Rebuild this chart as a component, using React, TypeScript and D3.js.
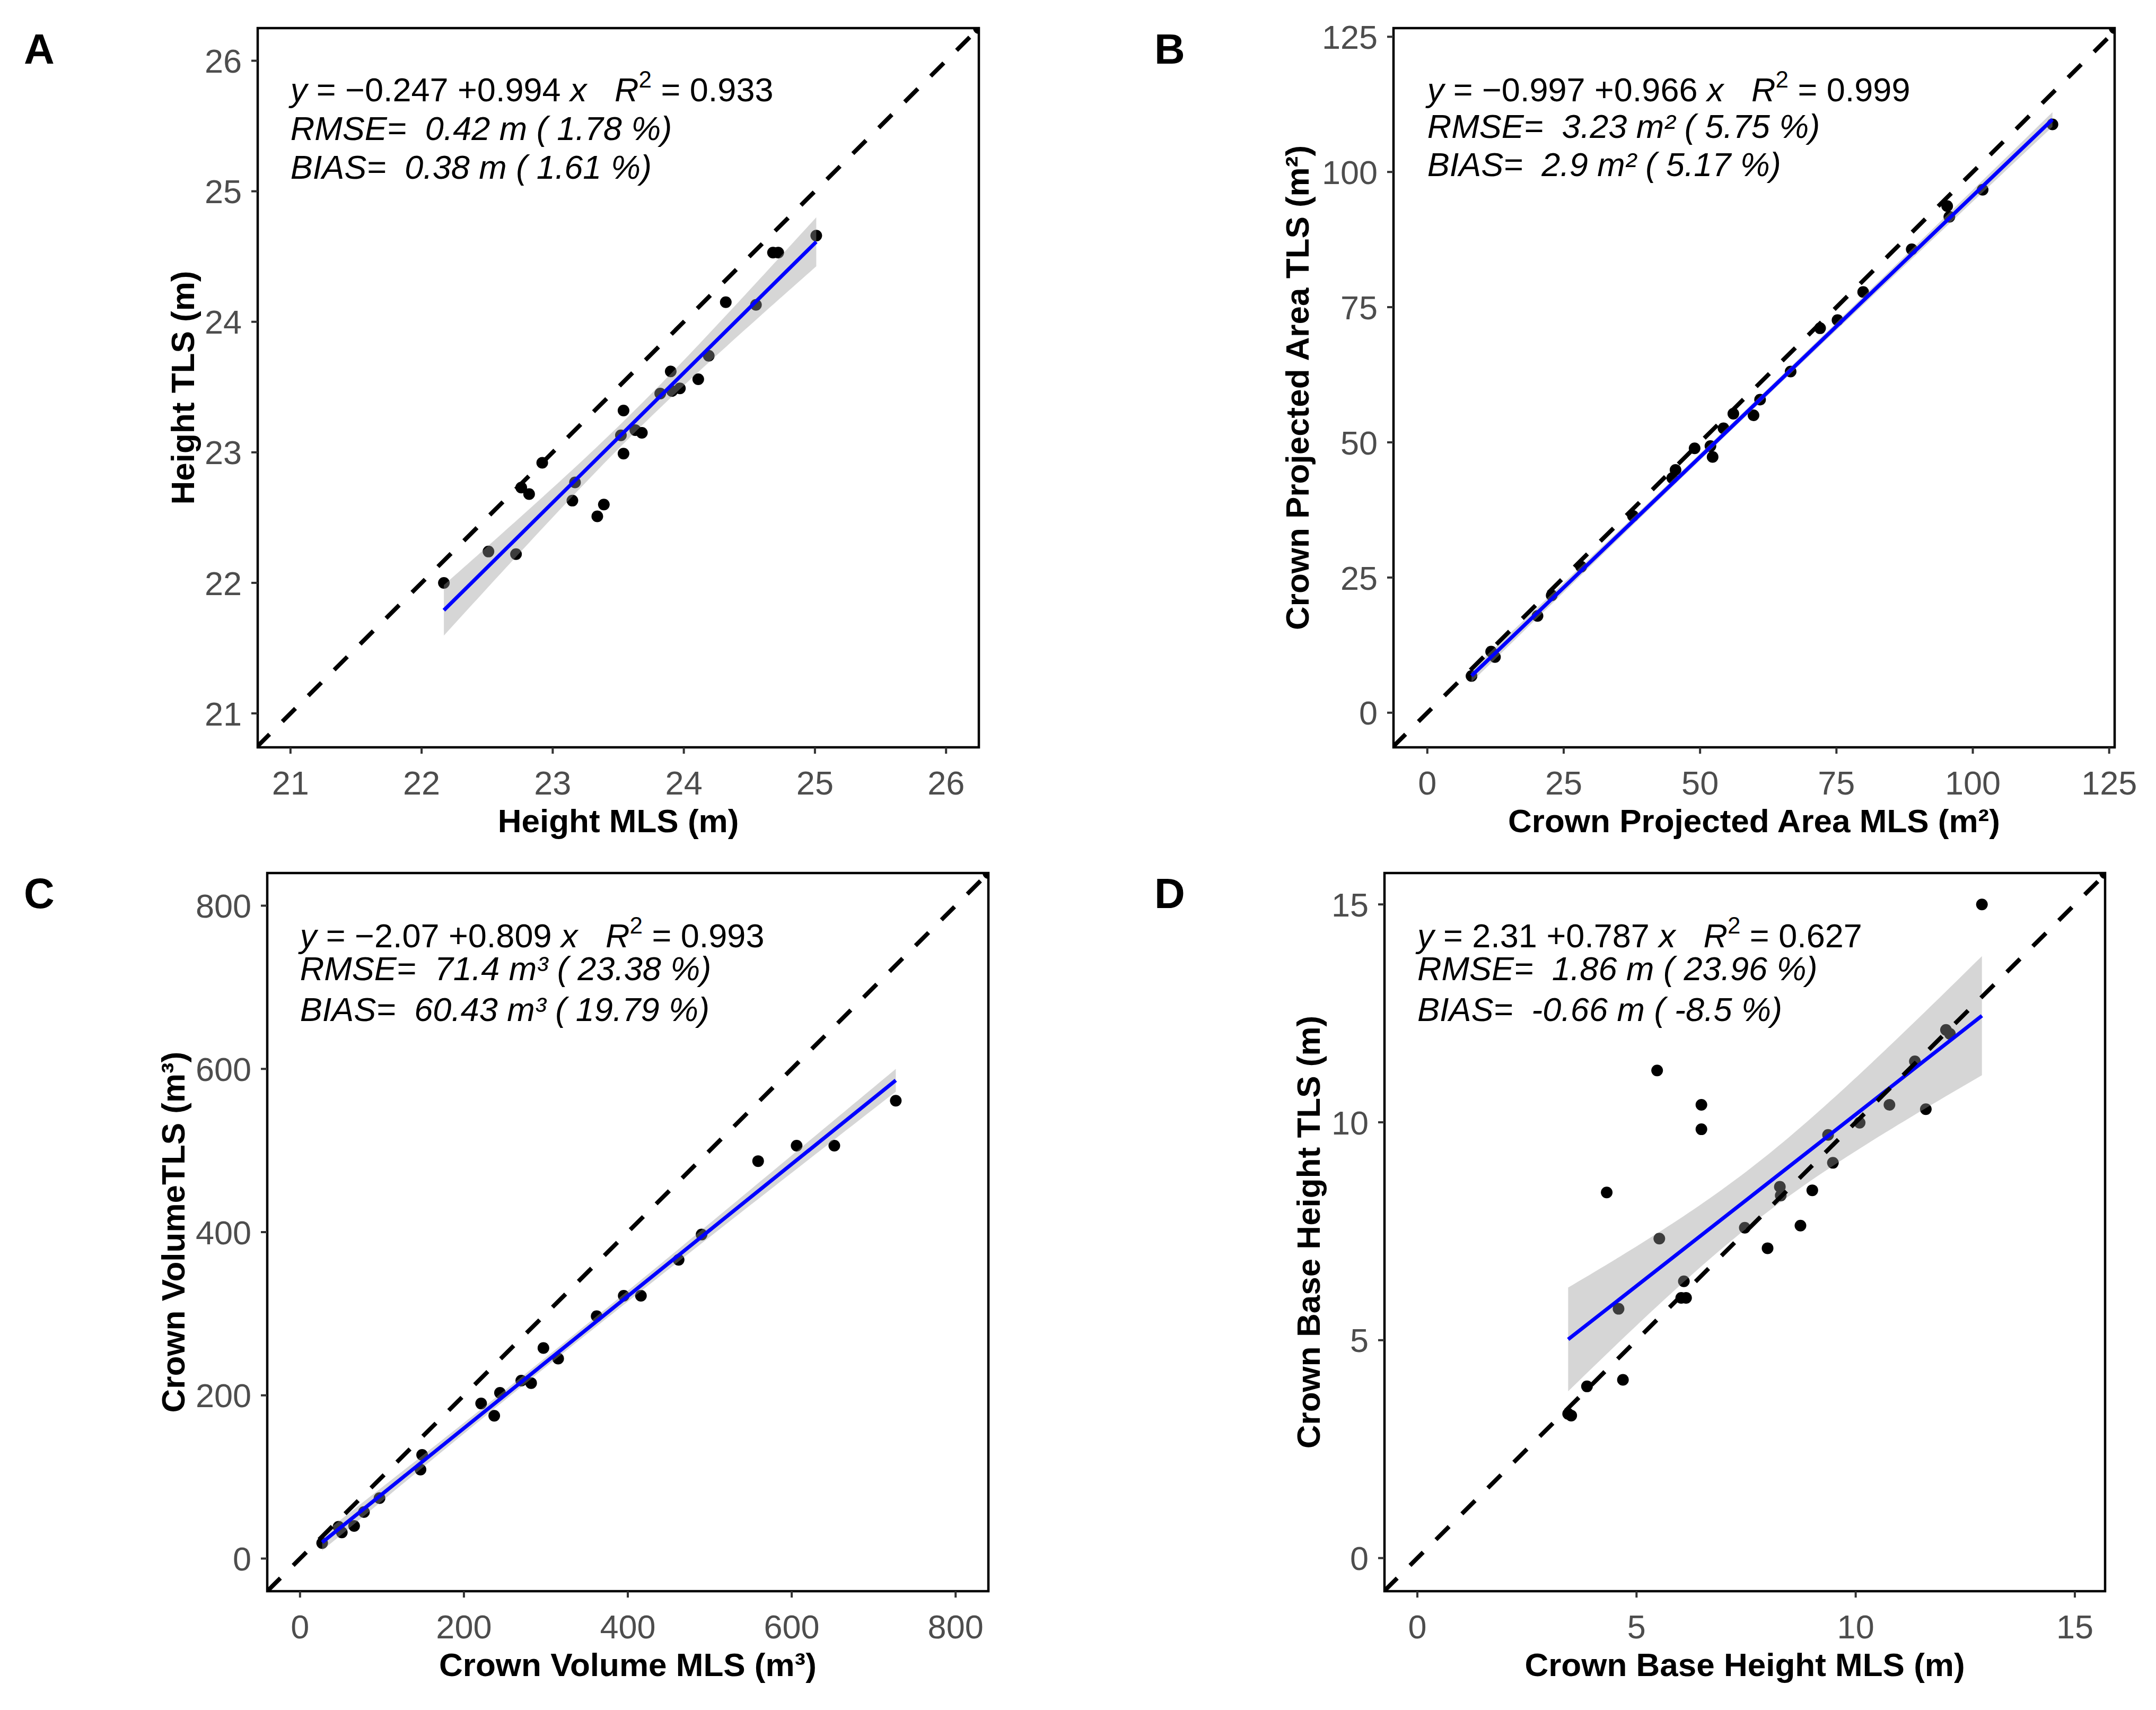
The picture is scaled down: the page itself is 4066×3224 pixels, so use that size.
import React from 'react';
import * as d3 from 'd3';

// A: tree height (m)
const heightMLS = [22.17, 22.51, 22.72, 22.76, 22.82, 22.92, 23.15, 23.17, 23.34, 23.39, 23.52, 23.54, 23.54, 23.63, 23.68, 23.82, 23.90, 23.91, 23.97, 24.11, 24.19, 24.32, 24.55, 24.68, 24.72, 25.01];
const heightTLS = [22.00, 22.24, 22.22, 22.73, 22.68, 22.92, 22.63, 22.77, 22.51, 22.60, 23.13, 23.32, 22.99, 23.17, 23.15, 23.45, 23.62, 23.47, 23.49, 23.56, 23.74, 24.15, 24.13, 24.53, 24.53, 24.66];
const heightTicks = [21, 22, 23, 24, 25, 26];

// B: crown projected area (m2)
const cpaMLS = [8.1, 11.7, 12.4, 20.2, 22.8, 28.2, 37.7, 44.9, 45.5, 49.0, 51.9, 52.3, 54.3, 56.1, 59.8, 61.0, 66.6, 72.0, 75.2, 79.9, 88.8, 95.3, 95.7, 101.8, 114.6];
const cpaTLS = [6.8, 11.3, 10.3, 17.9, 21.7, 27.0, 36.4, 43.4, 44.9, 48.9, 49.3, 47.3, 52.6, 55.3, 55.0, 57.9, 63.1, 71.1, 72.6, 77.8, 85.7, 93.7, 91.7, 96.7, 108.8];
const cpaTicks = [0, 25, 50, 75, 100, 125];

// C: crown volume (m3)
const volMLS = [27, 47, 51, 66, 78, 97, 147, 149, 221, 237, 244, 270, 282, 297, 315, 362, 395, 416, 462, 490, 559, 606, 652, 727];
const volTLS = [19, 39, 32, 40, 57, 74, 109, 127, 190, 175, 203, 218, 215, 258, 245, 297, 322, 322, 366, 397, 487, 506, 506, 561];
const volTicks = [0, 200, 400, 600, 800];

// D: crown base height (m)
const cbhMLS = [3.44, 3.51, 3.87, 4.69, 4.32, 4.59, 5.47, 5.52, 6.02, 6.08, 6.13, 6.48, 6.48, 7.47, 7.99, 8.27, 8.29, 8.74, 9.01, 9.37, 9.48, 10.09, 10.77, 11.35, 11.60, 12.06, 12.15, 12.88];
const cbhTLS = [3.31, 3.27, 3.94, 4.09, 8.39, 5.72, 11.19, 7.33, 5.97, 6.35, 5.97, 10.40, 9.84, 7.58, 7.11, 8.52, 8.32, 7.63, 8.44, 9.71, 9.07, 9.99, 10.40, 11.40, 10.30, 12.12, 12.03, 15.00];
const cbhTicks = [0, 5, 10, 15];

const FONT = '"Liberation Sans", Arial, sans-serif';
const NB = '\u00A0';
// keep runs of spaces visible in svg text
const keep = (s: string) => s.replace(/ /g, NB);

interface PanelCfg {
  letter: string;
  xs: number[];
  ys: number[];
  ticks: number[];
  domX: [number, number];
  domY: [number, number];
  left: number;
  top: number;
  w: number;
  h: number;
  letterPos: [number, number];
  yTitleX: number;
  xTitle: string;
  yTitle: string;
  a: string;
  b: string;
  r2: string;
  rmse: string;
  bias: string;
  annY: number[];
  coef: [number, number];
}

const tq = (df: number) => 1.959964 + 2.37227 / df + 2.8225 / (df * df) + 2.56166 / (df * df * df);

const Panel = ({ c }: { c: PanelCfg }) => {
  const x = d3.scaleLinear().domain(c.domX).range([c.left, c.left + c.w]);
  const y = d3.scaleLinear().domain(c.domY).range([c.top + c.h, c.top]);
  const [a0, b0] = c.coef;
  const n = c.xs.length;
  const xbar = d3.mean(c.xs) as number;
  const sxx = d3.sum(c.xs, v => (v - xbar) ** 2);
  const s = Math.sqrt(d3.sum(c.xs, (v, i) => (c.ys[i] - (a0 + b0 * v)) ** 2) / (n - 2));
  const t = tq(n - 2);
  const [xmin, xmax] = d3.extent(c.xs) as [number, number];
  const grid = d3.range(80).map(i => xmin + (xmax - xmin) * i / 79);
  const half = (v: number) => t * s * Math.sqrt(1 / n + (v - xbar) ** 2 / sxx);
  const band = d3.area<number>()
    .x(v => x(v))
    .y0(v => y(a0 + b0 * v - half(v)))
    .y1(v => y(a0 + b0 * v + half(v)));
  const fit = d3.line<number>().x(v => x(v)).y(v => y(a0 + b0 * v));
  const d0 = Math.min(c.domX[0], c.domY[0]);
  const d1 = Math.max(c.domX[1], c.domY[1]);
  const clipId = `clip-${c.letter}`;
  const annX = x(c.ticks[0]);
  const bottom = c.top + c.h;

  return (
    <g>
      <defs>
        <clipPath id={clipId}>
          <rect x={c.left} y={c.top} width={c.w} height={c.h} />
        </clipPath>
      </defs>
      <text x={c.letterPos[0]} y={c.letterPos[1]} fontFamily={FONT} fontWeight="bold" fontSize={80}>{c.letter}</text>
      <g clipPath={`url(#${clipId})`}>
        {c.xs.map((v, i) => (
          <circle key={i} cx={x(v)} cy={y(c.ys[i])} r={11} fill="black" />
        ))}
        <circle cx={x(c.domX[1])} cy={y(c.domY[1])} r={11} fill="black" />
        <path d={band(grid) || ''} fill="#999999" fillOpacity={0.4} />
        <path d={fit([xmin, xmax]) || ''} fill="none" stroke="#0000FF" strokeWidth={7} />
        <line x1={x(d0)} y1={y(d0)} x2={x(d1)} y2={y(d1)} stroke="black" strokeWidth={8} strokeDasharray="35 34" />
      </g>
      <rect x={c.left} y={c.top} width={c.w} height={c.h} fill="none" stroke="black" strokeWidth={4.5} />
      {c.ticks.map(tv => (
        <g key={`x${tv}`}>
          <line x1={x(tv)} x2={x(tv)} y1={bottom} y2={bottom + 12} stroke="#333333" strokeWidth={4} />
          <text x={x(tv)} y={bottom + 89} textAnchor="middle" fontFamily={FONT} fontSize={63} fill="#4D4D4D">{tv}</text>
        </g>
      ))}
      {c.ticks.map(tv => (
        <g key={`y${tv}`}>
          <line x1={c.left - 12} x2={c.left} y1={y(tv)} y2={y(tv)} stroke="#333333" strokeWidth={4} />
          <text x={c.left - 30} y={y(tv)} dy="0.36em" textAnchor="end" fontFamily={FONT} fontSize={63} fill="#4D4D4D">{tv}</text>
        </g>
      ))}
      <text x={c.left + c.w / 2} y={bottom + 160} textAnchor="middle" fontFamily={FONT} fontWeight="bold" fontSize={62}>{c.xTitle}</text>
      <text transform={`translate(${c.yTitleX},${c.top + c.h / 2}) rotate(-90)`} textAnchor="middle" fontFamily={FONT} fontWeight="bold" fontSize={62}>{c.yTitle}</text>
      <g fontFamily={FONT} fontSize={63} fill="black">
        <text x={annX} y={c.top + c.annY[0]}>
          <tspan fontStyle="italic">y</tspan>
          <tspan>{keep(` = ${c.a} +${c.b} `)}</tspan>
          <tspan fontStyle="italic">x</tspan>
          <tspan>{keep('   ')}</tspan>
          <tspan fontStyle="italic">R</tspan>
          <tspan dy={-26} fontSize={44}>2</tspan>
          <tspan dy={26}>{keep(` = ${c.r2}`)}</tspan>
        </text>
        <text x={annX} y={c.top + c.annY[1]} fontStyle="italic">{keep(c.rmse)}</text>
        <text x={annX} y={c.top + c.annY[2]} fontStyle="italic">{keep(c.bias)}</text>
      </g>
    </g>
  );
};

const panels: PanelCfg[] = [
  {
    letter: 'A', xs: heightMLS, ys: heightTLS, ticks: heightTicks,
    domX: [20.75, 26.25], domY: [20.74, 26.25],
    left: 486, top: 53, w: 1360, h: 1356, letterPos: [45, 120], yTitleX: 366,
    xTitle: 'Height MLS (m)', yTitle: 'Height TLS (m)',
    a: '\u22120.247', b: '0.994', r2: '0.933',
    rmse: 'RMSE=  0.42 m ( 1.78 %)', bias: 'BIAS=  0.38 m ( 1.61 %)',
    annY: [138, 211, 284], coef: [-0.247, 0.994],
  },
  {
    letter: 'B', xs: cpaMLS, ys: cpaTLS, ticks: cpaTicks,
    domX: [-6.2, 126.0], domY: [-6.4, 126.6],
    left: 2628, top: 53, w: 1360, h: 1356, letterPos: [2177, 120], yTitleX: 2468,
    xTitle: 'Crown Projected Area MLS (m\u00B2)', yTitle: 'Crown Projected Area TLS (m\u00B2)',
    a: '\u22120.997', b: '0.966', r2: '0.999',
    rmse: 'RMSE=  3.23 m\u00B2 ( 5.75 %)', bias: 'BIAS=  2.9 m\u00B2 ( 5.17 %)',
    annY: [138, 207, 279], coef: [-0.997, 0.966],
  },
  {
    letter: 'C', xs: volMLS, ys: volTLS, ticks: volTicks,
    domX: [-40, 840], domY: [-40, 840],
    left: 504, top: 1646, w: 1360, h: 1354, letterPos: [45, 1712], yTitleX: 348,
    xTitle: 'Crown Volume MLS (m\u00B3)', yTitle: 'Crown VolumeTLS (m\u00B3)',
    a: '\u22122.07', b: '0.809', r2: '0.993',
    rmse: 'RMSE=  71.4 m\u00B3 ( 23.38 %)', bias: 'BIAS=  60.43 m\u00B3 ( 19.79 %)',
    annY: [140, 202, 279], coef: [-2.07, 0.809],
  },
  {
    letter: 'D', xs: cbhMLS, ys: cbhTLS, ticks: cbhTicks,
    domX: [-0.75, 15.69], domY: [-0.76, 15.72],
    left: 2611, top: 1646, w: 1359, h: 1354, letterPos: [2177, 1712], yTitleX: 2489,
    xTitle: 'Crown Base Height MLS (m)', yTitle: 'Crown Base Height TLS (m)',
    a: '2.31', b: '0.787', r2: '0.627',
    rmse: 'RMSE=  1.86 m ( 23.96 %)', bias: 'BIAS=  -0.66 m ( -8.5 %)',
    annY: [140, 202, 279], coef: [2.31, 0.787],
  },
];

const App = () => (
  <svg width={4066} height={3224} style={{ position: 'absolute', left: 0, top: 0, background: 'white' }}>
    <rect width={4066} height={3224} fill="white" />
    {panels.map(p => <Panel key={p.letter} c={p} />)}
  </svg>
);

export default App;
